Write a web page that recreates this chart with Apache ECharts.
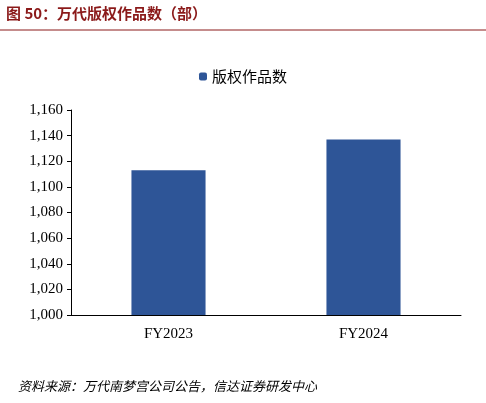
<!DOCTYPE html>
<html>
<head>
<meta charset="utf-8">
<script src="https://cdn.jsdelivr.net/npm/echarts@6/dist/echarts.min.js"></script>
<style>
html, body { margin: 0; padding: 0; background: #fff; }
#chart { width: 486px; height: 403px; }
</style>
</head>
<body>
<div id="chart"></div>
<script>
// 数据
const categories = ['FY2023', 'FY2024'];
const works = [1113, 1137];
const seriesName = '版权作品数';

const chart = echarts.init(document.getElementById('chart'));

const option = {
    animation: false,
    graphic: [
        {
            type: 'text',
            left: 6,
            top: 6,
            style: {
                text: '图 50：万代版权作品数（部）',
                font: 'bold 15px "Noto Sans CJK SC", serif',
                fill: '#8b1a1a'
            }
        },
        {
            type: 'line',
            shape: { x1: 0, y1: 30, x2: 486, y2: 30 },
            style: { stroke: '#8b1a1a', lineWidth: 1 }
        },
        {
            type: 'text',
            left: 18,
            top: 380,
            style: {
                text: '资料来源：万代南梦宫公司公告，信达证券研发中心',
                font: 'italic 13px "Noto Sans CJK SC", serif',
                fill: '#000'
            }
        }
    ],
    legend: {
        data: [seriesName],
        top: 64,
        left: 'center',
        itemWidth: 8,
        itemHeight: 8,
        textStyle: { fontSize: 15, color: '#000', fontFamily: '"Noto Sans CJK SC"' }
    },
    grid: { left: 71, right: 25, top: 110, bottom: 88 },
    xAxis: {
        type: 'category',
        data: categories,
        axisLine: { lineStyle: { color: '#000' } },
        axisTick: { show: false },
        axisLabel: { color: '#000', fontSize: 15, fontFamily: '"Liberation Serif", serif', margin: 12 }
    },
    yAxis: {
        type: 'value',
        min: 1000,
        max: 1160,
        interval: 20,
        axisLine: { show: true, lineStyle: { color: '#000' } },
        axisTick: { show: true, inside: false, length: 4 },
        splitLine: { show: false },
        axisLabel: { color: '#000', fontSize: 15, fontFamily: '"Liberation Serif", serif' }
    },
    series: [
        {
            name: seriesName,
            type: 'bar',
            data: works,
            barWidth: '38%',
            itemStyle: { color: '#2e5597' }
        }
    ]
};

chart.setOption(option);
</script>
</body>
</html>
